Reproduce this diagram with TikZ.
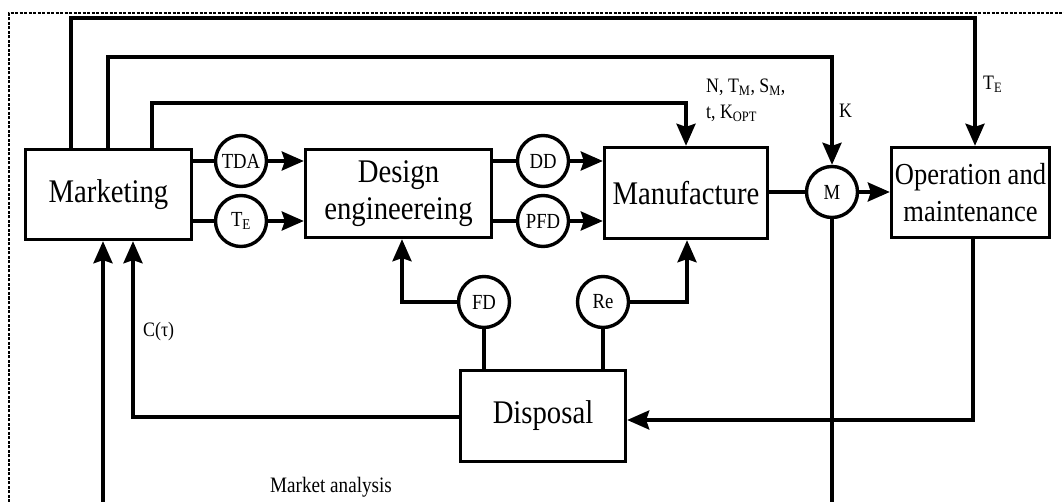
\documentclass[tikz,border=0pt]{standalone}
\usepackage{fontspec}
\setmainfont[FakeStretch=0.87]{Liberation Serif}
\usetikzlibrary{arrows.meta}
\newcommand\bigfnt{\fontsize{33}{37}\selectfont}
\newcommand\cirfnt{\fontsize{21.5}{24}\selectfont}
\newcommand\labfnt{\fontsize{20.5}{26}\selectfont}
\begin{document}
\begin{tikzpicture}[x=1pt,y=-1pt,
  line/.style={line width=3.4pt},
  arr/.style={line width=3.4pt,-{Stealth[length=22pt,width=19pt,inset=3pt]}},
  box/.style={draw,line width=3.4pt,inner sep=0pt,align=center,font=\bigfnt},
  circ/.style={circle,draw,line width=3.4pt,minimum size=51pt,inner sep=0pt,font=\cirfnt},
  lab/.style={font=\labfnt,inner sep=0pt}]
\useasboundingbox[fill=white] (0,0) rectangle (1064,502);
\draw[line width=1.2pt,dash pattern=on 3pt off 1.5pt] (9,502) -- (9,13) -- (1064,13);

\node[box,minimum width=166pt,minimum height=90pt] (mk) at (108.5,194.5) {Marketing};
\node[box,minimum width=186pt,minimum height=88pt] (de) at (398.5,193.5) {Design\\engineereing};
\node[box,minimum width=163pt,minimum height=91pt] (mf) at (686,193) {Manufacture};
\node[box,minimum width=158pt,minimum height=90pt,font=\fontsize{30.5}{37}\selectfont] (op) at (970.5,192.5) {Operation and\\maintenance};
\node[box,minimum width=165pt,minimum height=91pt] (dp) at (543,416) {Disposal};

\node[circ] (tda) at (241,161) {TDA};
\node[circ] (te) at (241,221) {T\textsubscript{E}};
\node[circ] (dd) at (543,161) {DD};
\node[circ] (pfd) at (543,221) {PFD};
\node[circ] (mc) at (832,192) {M};
\node[circ] (fd) at (484,302) {FD};
\node[circ] (re) at (603,302) {Re};

\draw[line] (tda -| mk.east) -- (tda);
\draw[arr] (tda) -- (tda -| de.west);
\draw[line] (te -| mk.east) -- (te);
\draw[arr] (te) -- (te -| de.west);
\draw[line] (dd -| de.east) -- (dd);
\draw[arr] (dd) -- (dd -| mf.west);
\draw[line] (pfd -| de.east) -- (pfd);
\draw[arr] (pfd) -- (pfd -| mf.west);
\draw[line] (mc -| mf.east) -- (mc);
\draw[arr] (mc) -- (mc -| op.west);

\coordinate (a1) at (71,18);
\coordinate (a2) at (975,18);
\draw[arr] (a1 |- mk.north) -- (a1) -- (a2) -- (a2 |- op.north);
\coordinate (b1) at (108,57);
\draw[arr] (b1 |- mk.north) -- (b1) -- (b1 -| mc.north) -- (mc.north);
\coordinate (c1) at (152,103);
\coordinate (c2) at (686,103);
\draw[arr] (c1 |- mk.north) -- (c1) -- (c2) -- (c2 |- mf.north);

\node[lab,anchor=west] (lte) at (983,84) {T\textsubscript{E}};
\node[lab,anchor=west] (lk) at (839,111) {K};
\node[lab,anchor=north west,align=left] (lnt) at (706,79) {N, T\textsubscript{M}, S\textsubscript{M},\\t, K\textsubscript{OPT}};

\draw[line] (fd) -- (fd |- dp.north);
\coordinate (f1) at (402,302);
\draw[arr] (fd) -- (f1) -- (f1 |- de.south);
\draw[line] (re) -- (re |- dp.north);
\coordinate (r1) at (687,302);
\draw[arr] (re) -- (r1) -- (r1 |- mf.south);
\coordinate (o1) at (973,420);
\draw[arr] (o1 |- op.south) -- (o1) -- (o1 -| dp.east);
\coordinate (d1) at (133,417);
\draw[arr] (d1 -| dp.west) -- (d1) -- (d1 |- mk.south);
\coordinate (m1) at (103,506);
\draw[arr] (m1) -- (m1 |- mk.south);
\coordinate (m2) at (832,506);
\draw[line] (mc) -- (m2);

\node[lab,anchor=west] (lc) at (143,332) {C(τ)};
\node[lab,font=\fontsize{22}{26}\selectfont] (lma) at (331,487) {Market analysis};
\end{tikzpicture}
\end{document}
